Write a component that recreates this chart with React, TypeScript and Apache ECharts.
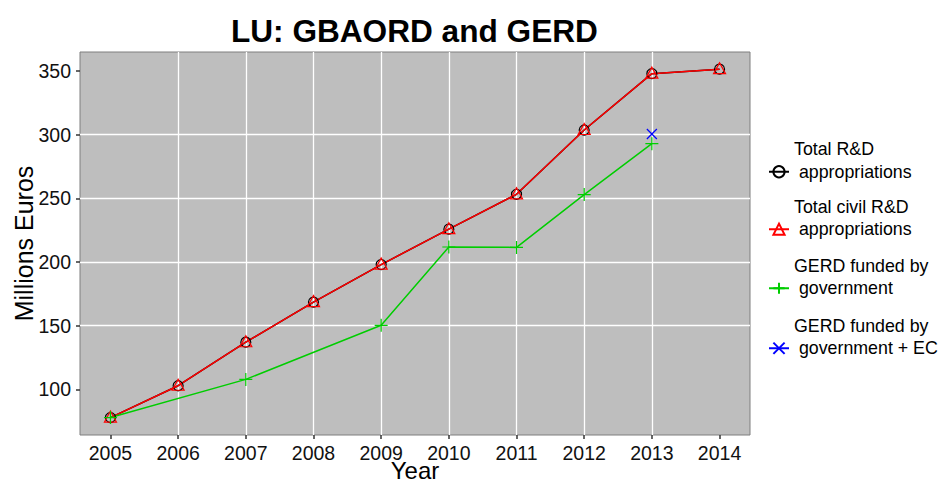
import React, { useEffect, useRef } from "react";
import * as echarts from "echarts";

const TITLE = "LU: GBAORD and GERD";
const X_NAME = "Year";
const Y_NAME = "Millions Euros";

const YEARS = [2005, 2006, 2007, 2008, 2009, 2010, 2011, 2012, 2013, 2014];
const TOTAL_RD = [77.8, 102.8, 137.0, 168.5, 198.0, 225.8, 253.2, 303.7, 348.0, 351.5];
const CIVIL_RD = [77.8, 102.8, 137.0, 168.5, 198.0, 225.8, 253.2, 303.7, 348.0, 351.5];
const GERD_GOV = [77.8, null, 107.8, null, 150.3, 211.8, 211.5, 253.0, 293.0, null];
const GERD_GOV_EC = [null, null, null, null, null, null, null, null, 300.6, null];

const SERIES_NAMES = [
  "Total R&D appropriations",
  "Total civil R&D appropriations",
  "GERD funded by government",
  "GERD funded by government + EC",
];
const LEGEND_LABELS = [
  "Total R&D\n appropriations\n ",
  "Total civil R&D\n appropriations\n ",
  "GERD funded by\n government\n ",
  "GERD funded by\n government + EC\n ",
];
const Y_TICKS = [100, 150, 200, 250, 300, 350];

const FONT = "'Liberation Sans', Arial, Helvetica, sans-serif";

const toPairs = (vals: (number | null)[]) =>
  YEARS.map((y, i) => [y, vals[i]] as [number, number | null]).filter((p) => p[1] != null);

export default function App() {
  const ref = useRef<HTMLDivElement>(null);

  useEffect(() => {
    if (!ref.current) return;
    const chart = echarts.init(ref.current, undefined, { renderer: "svg" });

    const legendTops = [138, 195.5, 254.5, 314.5];

    chart.setOption({
      animation: false,
      backgroundColor: "#ffffff",
      textStyle: { fontFamily: FONT },
      title: {
        text: TITLE,
        left: 231,
        top: 15,
        padding: 0,
        textStyle: { fontSize: 31.6, fontWeight: "bold", color: "#000", fontFamily: FONT },
      },
      grid: {
        left: 80,
        top: 52,
        width: 670,
        height: 383,
        containLabel: false,
        outerBoundsMode: "none",
        show: true,
        backgroundColor: "#bebebe",
        borderColor: "#7f7f7f",
        borderWidth: 1,
      },
      legend: legendTops.map((top, i) => ({
        data: [SERIES_NAMES[i]],
        left: 768,
        top,
        padding: 0,
        itemWidth: 20,
        itemHeight: 14,
        selectedMode: false,
        formatter: () => LEGEND_LABELS[i],
        textStyle: { fontSize: 17.8, lineHeight: 22.5, color: "#000", fontFamily: FONT, overflow: "none" },
      })),
      xAxis: {
        type: "value",
        min: 2004.55,
        max: 2014.45,
        splitNumber: 10,
        minInterval: 1,
        maxInterval: 1,
        name: X_NAME,
        nameLocation: "middle",
        nameGap: 25,
        nameMoveOverlap: false,
        nameTextStyle: { fontSize: 24, lineHeight: 20, color: "#000", fontFamily: FONT },
        axisLine: { show: false },
        axisTick: {
          show: true,
          length: 4,
          customValues: YEARS,
          lineStyle: { color: "#333", width: 1.5 },
        },
        axisLabel: {
          customValues: YEARS,
          margin: 8,
          fontSize: 19.5,
          color: "#111",
          fontFamily: FONT,
          formatter: (v: number) => String(v),
        },
        splitLine: {
          show: true,
          showMinLine: false,
          showMaxLine: false,
          lineStyle: { color: "#ffffff", width: 1.3 },
        },
      },
      yAxis: {
        type: "value",
        min: 64.1,
        max: 365,
        splitNumber: 5,
        minInterval: 50,
        maxInterval: 50,
        name: Y_NAME,
        nameLocation: "middle",
        nameRotate: 90,
        nameGap: 44,
        nameMoveOverlap: false,
        nameTextStyle: { fontSize: 25, color: "#000", fontFamily: FONT },
        axisLine: { show: false },
        axisTick: {
          show: true,
          length: 4,
          customValues: Y_TICKS,
          lineStyle: { color: "#333", width: 1.5 },
        },
        axisLabel: {
          customValues: Y_TICKS,
          margin: 9,
          fontSize: 19.5,
          color: "#111",
          fontFamily: FONT,
        },
        splitLine: {
          show: true,
          showMinLine: false,
          showMaxLine: false,
          lineStyle: { color: "#ffffff", width: 1.3 },
        },
      },
      series: [
        {
          name: SERIES_NAMES[0],
          type: "line",
          data: toPairs(TOTAL_RD),
          symbol: "circle",
          symbolSize: 10,
          showAllSymbol: true,
          lineStyle: { color: "#000000", width: 1.5 },
          itemStyle: { color: "rgba(0,0,0,0)", borderColor: "#000000", borderWidth: 1.2 },
        },
        {
          name: SERIES_NAMES[1],
          type: "line",
          data: toPairs(CIVIL_RD),
          symbol: "triangle",
          symbolSize: [12, 11],
          symbolOffset: [0, -1],
          showAllSymbol: true,
          lineStyle: { color: "#ff0000", width: 1.5 },
          itemStyle: { color: "rgba(0,0,0,0)", borderColor: "#ff0000", borderWidth: 1.2 },
        },
        {
          name: SERIES_NAMES[2],
          type: "line",
          data: toPairs(GERD_GOV),
          symbol: "path://M0,5L10,5M5,0L5,10",
          symbolSize: 13,
          showAllSymbol: true,
          lineStyle: { color: "#00cd00", width: 1.5 },
          itemStyle: { color: "rgba(0,0,0,0)", borderColor: "#00cd00", borderWidth: 1.2 },
        },
        {
          name: SERIES_NAMES[3],
          type: "line",
          data: toPairs(GERD_GOV_EC),
          symbol: "path://M0,0L10,10M10,0L0,10",
          symbolSize: 10,
          showAllSymbol: true,
          lineStyle: { color: "#0000ff", width: 1.5 },
          itemStyle: { color: "rgba(0,0,0,0)", borderColor: "#0000ff", borderWidth: 1.2 },
        },
      ],
    });

    return () => chart.dispose();
  }, []);

  return (
    <div
      ref={ref}
      style={{ position: "fixed", left: 0, top: 0, width: 944, height: 484, background: "#fff" }}
    />
  );
}
